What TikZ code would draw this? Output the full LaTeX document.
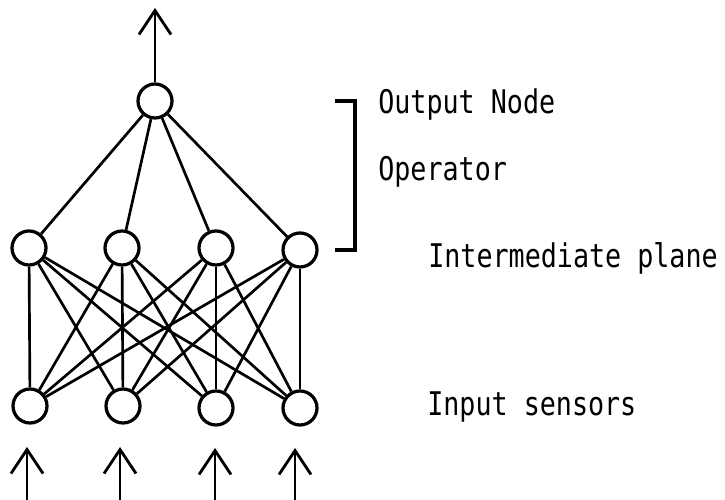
\documentclass[tikz,border=0pt]{standalone}
\usepackage{fontspec}
\setmonofont{DejaVu Sans Mono}
\usetikzlibrary{arrows.meta}
\newcommand{\tall}[1]{\scalebox{1}[1.22]{#1}}
\begin{document}
\begin{tikzpicture}[>={Straight Barb[length=0.6cm,width=0.8cm,line width=2pt]},
  neuron/.style={draw, circle, line width=2.3pt, minimum size=0.85cm, inner sep=0pt},
  link/.style={line width=1.9pt},
  lbl/.style={anchor=west, font=\ttfamily\fontsize{19}{22}\selectfont, inner sep=0pt}]
\useasboundingbox (0,0) rectangle (18.125,12.5);

% Saida
\node[neuron] (out) at (3.875,9.975) {};
\coordinate (top) at (3.875,12.3);

% Plano intermediario
\node[neuron] (h1) at (0.725,6.3) {};
\node[neuron] (h2) at (3.05,6.3) {};
\node[neuron] (h3) at (5.4,6.3) {};
\node[neuron] (h4) at (7.5,6.25) {};

% Sensores de entrada
\node[neuron] (i1) at (0.75,2.35) {};
\node[neuron] (i2) at (3.075,2.35) {};
\node[neuron] (i3) at (5.4,2.3) {};
\node[neuron] (i4) at (7.5,2.3) {};

% Ligacoes
\draw[link, ->] (out) -- (top);
\draw[link] (out) -- (h1);
\draw[link] (out) -- (h2);
\draw[link] (out) -- (h3);
\draw[link] (out) -- (h4);
\foreach \a in {1,2,3,4}
  \foreach \b in {1,2,3,4}
    \draw[link] (h\a) -- (i\b);

% Entradas
\coordinate (e1) at (0.675,0);  \coordinate (t1) at (0.675,1.325);
\coordinate (e2) at (3.0,0);    \coordinate (t2) at (3.0,1.325);
\coordinate (e3) at (5.375,0);  \coordinate (t3) at (5.375,1.3);
\coordinate (e4) at (7.375,0);  \coordinate (t4) at (7.375,1.3);
\draw[link, ->] (e1) -- (t1);
\draw[link, ->] (e2) -- (t2);
\draw[link, ->] (e3) -- (t3);
\draw[link, ->] (e4) -- (t4);

% Chave e rotulos
\draw[line width=2.2pt] (8.375,9.975) -- (8.875,9.975) -- (8.875,6.25) -- (8.375,6.25);
\node[lbl] (t-out) at (9.45,9.875) {\tall{Output Node}};
\node[lbl] (t-op) at (9.45,8.2) {\tall{Operator}};
\node[lbl] (t-mid) at (10.7,6.05) {\tall{Intermediate plane}};
\node[lbl] (t-in) at (10.675,2.325) {\tall{Input sensors}};
\end{tikzpicture}
\end{document}
